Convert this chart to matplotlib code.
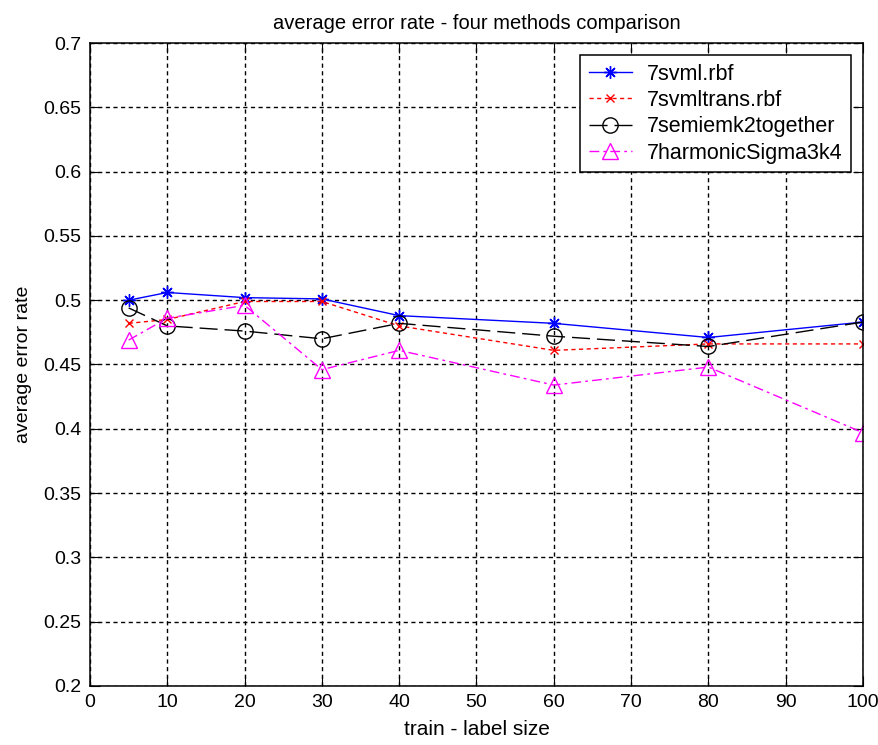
import matplotlib
matplotlib.use("Agg")
import matplotlib.pyplot as plt

plt.rcParams['font.family'] = ['Liberation Sans', 'DejaVu Sans']

x = [5, 10, 20, 30, 40, 60, 80, 100]
svml_rbf = [0.500, 0.506, 0.502, 0.501, 0.488, 0.482, 0.471, 0.483]
svmltrans_rbf = [0.482, 0.485, 0.499, 0.499, 0.480, 0.461, 0.466, 0.466]
semiemk2 = [0.494, 0.480, 0.476, 0.470, 0.482, 0.472, 0.464, 0.483]
harmonic = [0.469, 0.486, 0.496, 0.446, 0.461, 0.434, 0.448, 0.397]

labels = ['7svml.rbf', '7svmltrans.rbf', '7semiemk2together', '7harmonicSigma3k4']
xticks = [0, 10, 20, 30, 40, 50, 60, 70, 80, 90, 100]
yticks = [0.2, 0.25, 0.3, 0.35, 0.4, 0.45, 0.5, 0.55, 0.6, 0.65, 0.7]
yticklabels = ['0.2', '0.25', '0.3', '0.35', '0.4', '0.45', '0.5', '0.55', '0.6', '0.65', '0.7']

fig = plt.figure(figsize=(8.79, 7.45), dpi=100)
ax = fig.add_axes([90/879, 1-686/745, (863-90)/879, (686-43)/745])

ax.plot(x, svml_rbf, color='blue', linestyle='-', marker=(8, 2, 0), markersize=9,
        markeredgewidth=1, linewidth=1, label=labels[0])
ax.plot(x, svmltrans_rbf, color='red', linestyle=(0, (3, 2.5)), marker='x', markersize=6,
        markeredgewidth=1, linewidth=1, label=labels[1])
ax.plot(x, semiemk2, color='black', linestyle=(0, (13, 5)), marker='o', markersize=11,
        markerfacecolor='none', markeredgewidth=1, linewidth=1, label=labels[2])
ax.plot(x, harmonic, color='magenta', linestyle=(0, (7, 3, 2, 3)), marker='^', markersize=11,
        markerfacecolor='none', markeredgewidth=1, linewidth=1, label=labels[3])

ax.set_xlim(0, 100)
ax.set_ylim(0.2, 0.7)
ax.set_xticks(xticks)
ax.set_yticks(yticks)
ax.set_xticklabels([str(v) for v in xticks], fontsize=14)
ax.set_yticklabels(yticklabels, fontsize=14)
ax.tick_params(direction='in', top=True, right=True, length=7, pad=6, colors='black')
ax.grid(True, color='black', linestyle=(0, (3, 2.5)), linewidth=1)
for s in ax.spines.values():
    s.set_linewidth(1.1)

ax.set_title('average error rate - four methods comparison', fontsize=14.5, pad=10)
ax.set_xlabel('train - label size', fontsize=15, labelpad=6)
ax.set_ylabel('average error rate', fontsize=14, labelpad=8)

leg = ax.legend(loc='upper right', bbox_to_anchor=(851/879, 1-55/745), bbox_transform=fig.transFigure,
                fancybox=False, framealpha=1, edgecolor='black', fontsize=15.5,
                borderaxespad=0, handlelength=2, handletextpad=0.7, borderpad=0.4,
                labelspacing=0.25)
leg.get_frame().set_linewidth(1.1)

fig.savefig('out.png', dpi=100, facecolor='white')
